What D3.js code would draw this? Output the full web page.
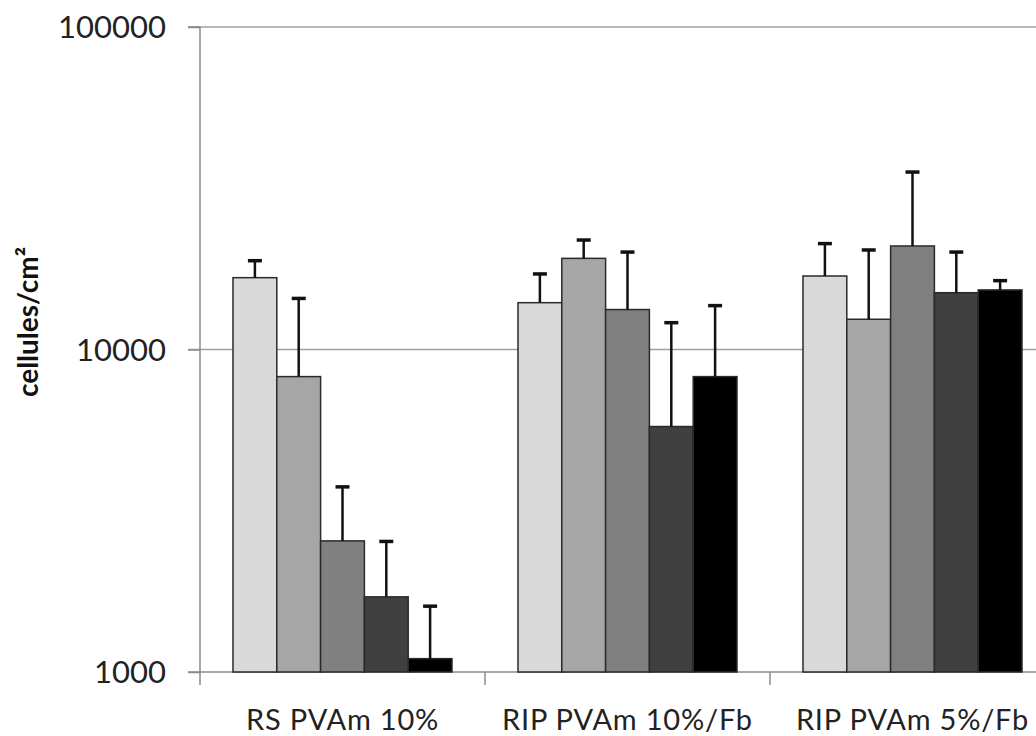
<!DOCTYPE html>
<html>
<head>
<meta charset="utf-8">
<script src="https://cdn.jsdelivr.net/npm/d3@7"></script>
<style>
  html, body { margin: 0; padding: 0; background: #fff; }
  svg { display: block; }
</style>
</head>
<body>
<svg id="chart" width="1036" height="736"></svg>
<script>
const categories = ["RS PVAm 10%", "RIP PVAm 10%/Fb", "RIP PVAm 5%/Fb"];
const seriesNames = ["s1", "s2", "s3", "s4", "s5"];
const seriesColors = ["#d9d9d9", "#a6a6a6", "#808080", "#404040", "#000000"];
// mean values per category, one array per series
const s1Values = [16700, 13970, 16900];
const s2Values = [8240, 19170, 12410];
const s3Values = [2550, 13300, 20940];
const s4Values = [1710, 5770, 15000];
const s5Values = [1100, 8240, 15300];
// upper error bar ends
const s1Upper = [18850, 17150, 21300];
const s2Upper = [14400, 21850, 20350];
const s3Upper = [3750, 20050, 35500];
const s4Upper = [2540, 12110, 20050];
const s5Upper = [1600, 13680, 16350];
const yTicks = [1000, 10000, 100000];
const yLabel = "cellules/cm²";

const values = [s1Values, s2Values, s3Values, s4Values, s5Values];
const uppers = [s1Upper, s2Upper, s3Upper, s4Upper, s5Upper];

const svg = d3.select("#chart");
const mLeft = 200, mRight = 1055, mTop = 27, mBottom = 672;
const font = "Lato, 'Open Sans', sans-serif";

const y = d3.scaleLog().domain([1000, 100000]).range([mBottom, mTop]);
const x0 = d3.scaleBand().domain(categories).range([mLeft, mRight]).paddingInner(0).paddingOuter(0);
const x1 = d3.scaleBand().domain(seriesNames).range([33, 252]).padding(0);

// gridlines
svg.append("g").selectAll("line").data(yTicks.slice(1)).join("line")
  .attr("x1", mLeft - 12).attr("x2", 1036)
  .attr("y1", d => y(d)).attr("y2", d => y(d))
  .attr("stroke", "#a0a0a0").attr("stroke-width", 1.5);

// y axis
const yAxis = d3.axisLeft(y).tickValues(yTicks).tickFormat(d3.format("d")).tickSize(12).tickPadding(22);
const gy = svg.append("g").attr("transform", `translate(${mLeft},0)`).call(yAxis);
gy.select(".domain").attr("stroke", "#8c8c8c").attr("stroke-width", 1.5).attr("d", `M-12,${mTop}H0V${mBottom + 13}`);
gy.selectAll(".tick line").attr("stroke", "#8c8c8c").attr("stroke-width", 1.5);
gy.selectAll(".tick text").attr("font-family", font).attr("font-size", 31).attr("fill", "#222").attr("dy", "0.35em");

// x axis
const xAxis = d3.axisBottom(x0).tickSize(0).tickPadding(0);
const gx = svg.append("g").attr("transform", `translate(0,${mBottom})`).call(xAxis);
gx.select(".domain").attr("stroke", "#8c8c8c").attr("stroke-width", 1.5).attr("d", `M${mLeft - 12},0H1036`);
gx.selectAll(".tick text").attr("font-family", font).attr("font-size", 29)
  .attr("letter-spacing", "0.8px").attr("fill", "#222")
  .attr("y", 58).attr("dy", "0");
// category separator ticks
svg.append("g").selectAll("line").data(categories.slice(1)).join("line")
  .attr("x1", d => x0(d)).attr("x2", d => x0(d))
  .attr("y1", mBottom).attr("y2", mBottom + 13)
  .attr("stroke", "#8c8c8c").attr("stroke-width", 1.5);

// bars
const data = [];
categories.forEach((c, ci) => {
  seriesNames.forEach((s, si) => {
    data.push({ c, s, si, v: values[si][ci], u: uppers[si][ci] });
  });
});

const bars = svg.append("g");
bars.selectAll("rect").data(data).join("rect")
  .attr("x", d => x0(d.c) + x1(d.s))
  .attr("y", d => y(d.v))
  .attr("width", x1.bandwidth())
  .attr("height", d => y(1000) - y(d.v))
  .attr("fill", d => seriesColors[d.si])
  .attr("stroke", "#2a2a2a").attr("stroke-width", 1.5);

// error bars
const eb = svg.append("g").attr("stroke", "#111").attr("stroke-width", 2.5);
eb.selectAll("line.v").data(data).join("line").attr("class", "v")
  .attr("x1", d => x0(d.c) + x1(d.s) + x1.bandwidth() / 2)
  .attr("x2", d => x0(d.c) + x1(d.s) + x1.bandwidth() / 2)
  .attr("y1", d => y(d.v)).attr("y2", d => y(d.u));
eb.selectAll("line.c").data(data).join("line").attr("class", "c")
  .attr("x1", d => x0(d.c) + x1(d.s) + x1.bandwidth() / 2 - 7)
  .attr("x2", d => x0(d.c) + x1(d.s) + x1.bandwidth() / 2 + 7)
  .attr("y1", d => y(d.u)).attr("y2", d => y(d.u))
  .attr("stroke-width", 3.5);

// y label
svg.append("text")
  .attr("transform", "translate(38,322) rotate(-90)")
  .attr("text-anchor", "middle")
  .attr("font-family", font).attr("font-weight", "bold").attr("font-size", 28)
  .attr("fill", "#111")
  .text(yLabel);
</script>
</body>
</html>
